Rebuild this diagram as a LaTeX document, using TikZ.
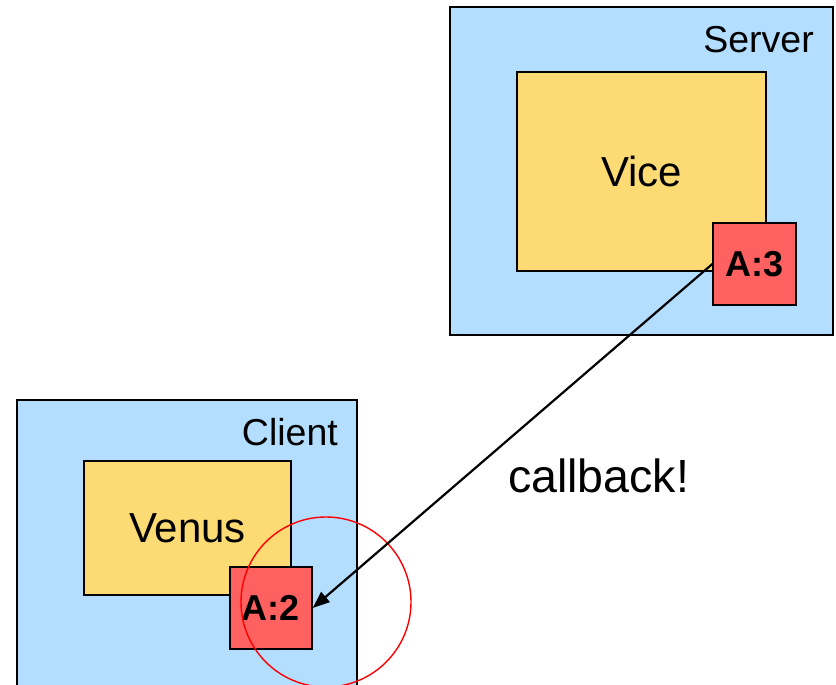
\documentclass[tikz,border=0pt]{standalone}
\usepackage{fontspec}
\setmainfont{Liberation Sans}
\usetikzlibrary{arrows.meta}

\definecolor{hostblue}{RGB}{179,222,255}
\definecolor{procyellow}{RGB}{253,219,116}
\definecolor{cachered}{RGB}{255,96,96}

\tikzset{
  host/.style={draw=black, line width=1.4pt, fill=hostblue, inner sep=0pt},
  proc/.style={draw=black, line width=1.4pt, fill=procyellow, inner sep=0pt,
    font=\fontsize{42}{50}\selectfont},
  cache/.style={draw=black, line width=1.4pt, fill=cachered, inner sep=0pt,
    font=\fontsize{36}{43}\selectfont\bfseries},
  hostlabel/.style={font=\fontsize{37.5}{45}\selectfont, inner sep=0pt},
  callarrow/.style={line width=2.2pt, -{Triangle[length=17pt,width=13pt]}},
}

\begin{document}
\begin{tikzpicture}[x=1pt,y=-1pt]
  \clip (0,0) rectangle (836,685);
  \fill[white] (0,0) rectangle (836,685);

  % server side
  \node[host, minimum width=383pt, minimum height=328pt] (server) at (641.5,171) {};
  \node[hostlabel, anchor=base east] (serverlbl) at (814,53) {Server};
  \node[proc, minimum width=249pt, minimum height=199pt] (vice) at (641.5,171.5) {Vice};
  \node[cache, minimum width=83pt, minimum height=82pt] (a3) at (754.5,264) {A:3};

  % client side
  \node[host, minimum width=340pt, minimum height=310pt] (client) at (187,555) {};
  \node[hostlabel, anchor=base east] (clientlbl) at (338,445) {Client};
  \node[proc, minimum width=207pt, minimum height=134pt] (venus) at (187.5,528) {Venus};
  \node[cache, minimum width=82pt, minimum height=82pt] (a2) at (271,608) {A:2};

  % highlight ring round the client cache
  \node[draw=red, line width=1.4pt, circle, minimum size=170pt, inner sep=0pt] (ring) at (326,602) {};

  % callback from server cache to client cache
  \draw[callarrow] (a3.west) -- (a2.east);
  \node[font=\fontsize{46.5}{56}\selectfont, inner sep=0pt, anchor=base] (cb) at (598.5,492) {callback!};
\end{tikzpicture}
\end{document}
